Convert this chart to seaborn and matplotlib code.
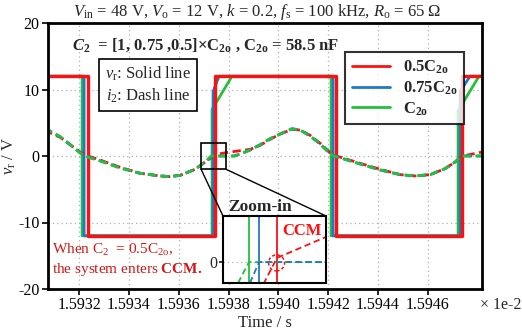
import matplotlib
matplotlib.use("Agg")
import numpy as np
import pandas as pd
import seaborn as sns
import matplotlib.pyplot as plt
from matplotlib.patches import Rectangle, Ellipse, ConnectionPatch
from matplotlib.lines import Line2D
from matplotlib.ticker import FuncFormatter

# ---------------- data (time in units of 1e-2 s) ----------------
t_vr_green = [1.593060, 1.593212, 1.593212, 1.593734, 1.593734, 1.593814, 1.594212, 1.594212, 1.594722, 1.594722, 1.594806, 1.594818]
vr_green = [12, 12, -12, -12, 7.0, 12, 12, -12, -12, 6.8, 12, 12]
t_vr_blue = [1.593060, 1.593220, 1.593220, 1.593738, 1.593738, 1.593762, 1.594220, 1.594220, 1.594730, 1.594730, 1.594770, 1.594818]
vr_blue = [12, 12, -12, -12, 9.7, 12, 12, -12, -12, 9.7, 12, 12]
t_vr_red = [1.593060, 1.593236, 1.593236, 1.593744, 1.593744, 1.594231, 1.594231, 1.594738, 1.594738, 1.594818]
vr_red = [12, 12, -12, -12, 12, 12, -12, -12, 12, 12]

t_i2_green = [1.593059, 1.593076, 1.593124, 1.593164, 1.593204, 1.593220, 1.593284, 1.593365, 1.593445, 1.593525,
              1.593565, 1.593606, 1.593666, 1.593706, 1.593730, 1.593827, 1.593847, 1.593887, 1.593927, 1.593967,
              1.594007, 1.594055, 1.594088, 1.594128, 1.594168, 1.594208, 1.594224, 1.594268, 1.594329, 1.594409,
              1.594489, 1.594549, 1.594610, 1.594670, 1.594710, 1.594734, 1.594818]
i2_green = [4.0, 3.9, 2.9, 1.7, 0.45, 0.0, -0.75, -1.8, -2.6, -3.0,
            -3.1, -2.9, -2.0, -0.9, 0.0, 0.0, 0.3, 0.9, 1.7, 2.6,
            3.3, 4.1, 3.9, 3.0, 1.8, 0.3, 0.0, -0.5, -1.2, -2.1,
            -2.8, -3.0, -2.8, -1.9, -0.9, 0.0, 0.0]
t_i2_blue = [1.593059, 1.593076, 1.593124, 1.593164, 1.593204, 1.593224, 1.593284, 1.593365, 1.593445, 1.593525,
             1.593565, 1.593606, 1.593666, 1.593706, 1.593736, 1.593820, 1.593847, 1.593887, 1.593927, 1.593967,
             1.594007, 1.594055, 1.594088, 1.594128, 1.594168, 1.594210, 1.594228, 1.594268, 1.594329, 1.594409,
             1.594489, 1.594549, 1.594610, 1.594670, 1.594710, 1.594738, 1.594818]
i2_blue = [4.0, 3.9, 2.9, 1.7, 0.5, 0.0, -0.7, -1.8, -2.6, -3.0,
           -3.1, -2.9, -2.0, -0.9, 0.0, 0.0, 0.3, 0.9, 1.7, 2.6,
           3.3, 4.1, 3.9, 3.0, 1.8, 0.3, 0.0, -0.5, -1.2, -2.1,
           -2.8, -3.0, -2.8, -1.9, -0.9, 0.0, 0.0]
t_i2_red = [1.593059, 1.593076, 1.593124, 1.593164, 1.593204, 1.593236, 1.593284, 1.593365, 1.593445, 1.593525,
            1.593565, 1.593606, 1.593666, 1.593706, 1.593742, 1.593760, 1.593790, 1.593827, 1.593847, 1.593887,
            1.593927, 1.593967, 1.594007, 1.594055, 1.594088, 1.594128, 1.594168, 1.594208, 1.594234, 1.594268,
            1.594329, 1.594409, 1.594489, 1.594549, 1.594610, 1.594670, 1.594710, 1.594740, 1.594780, 1.594818]
i2_red = [3.6, 3.6, 2.8, 1.7, 0.6, 0.0, -0.6, -1.7, -2.6, -3.0,
          -3.1, -2.9, -2.0, -0.9, 0.0, 0.3, 0.5, 0.7, 0.8, 1.0,
          1.6, 2.5, 3.3, 4.0, 3.9, 3.1, 1.9, 0.5, 0.0, -0.4,
          -1.1, -2.0, -2.8, -3.0, -2.8, -1.9, -0.9, 0.0, 0.3, 0.6]

# inset (zoomed schematic around the rising edge)
ins_t_vr_green = [1.593690, 1.5937152, 1.5937152]
ins_vr_green = [-1.0, -1.0, 12]
ins_t_vr_blue = [1.593690, 1.593725, 1.593725]
ins_vr_blue = [-1.0, -1.0, 12]
ins_t_vr_red = [1.593690, 1.5937424, 1.5937424]
ins_vr_red = [-1.0, -1.0, 12]
ins_t_i2_green = [1.5937046, 1.5937152, 1.593790]
ins_i2_green = [-1.0, 0.0, 0.0]
ins_t_i2_blue = [1.5937162, 1.593725, 1.593790]
ins_i2_blue = [-1.0, 0.0, 0.0]
ins_t_i2_red = [1.593690, 1.5937298, 1.5937424, 1.593790]
ins_i2_red = [-1.0, -1.0, 0.2, 1.2]

x_ticks = [1.5932, 1.5934, 1.5936, 1.5938, 1.5940, 1.5942, 1.5944, 1.5946]
y_ticks = [-20, -10, 0, 10, 20]

RED = "#ff1010"
BLUE = "#2079c8"
GREEN = "#22c03c"

# ---------------- style ----------------
sns.set_theme(style="ticks")
plt.rcParams["font.family"] = ["Liberation Serif", "DejaVu Serif"]
plt.rcParams["mathtext.fontset"] = "custom"
plt.rcParams["mathtext.rm"] = "Liberation Serif"
plt.rcParams["mathtext.it"] = "Liberation Serif:italic"
plt.rcParams["mathtext.bf"] = "Liberation Serif:bold"
plt.rcParams["mathtext.bfit"] = "Liberation Serif:bold:italic"
plt.rcParams["axes.unicode_minus"] = False

fig = plt.figure(figsize=(5.22, 3.35), dpi=100)
ax = fig.add_axes([48 / 522, 1 - 289 / 335, 434 / 522, 266 / 335])

dash = (0, (3, 1.6))
for t, v, c, lw in [(t_vr_green, vr_green, GREEN, 2.0), (t_vr_blue, vr_blue, BLUE, 2.0), (t_vr_red, vr_red, RED, 2.4)]:
    sns.lineplot(x=t, y=v, sort=False, estimator=None, color=c, lw=lw, ax=ax)
for t, v, c in [(t_i2_red, i2_red, RED), (t_i2_blue, i2_blue, BLUE), (t_i2_green, i2_green, GREEN)]:
    sns.lineplot(x=t, y=v, sort=False, estimator=None, color=c, lw=2.0, linestyle=dash, ax=ax)

ax.set_xlim(1.593075, 1.594818)
ax.set_ylim(-20, 20)
ax.set_xticks(x_ticks)
ax.set_yticks(y_ticks)
ax.xaxis.set_major_formatter(FuncFormatter(lambda x, p: f"{x:.4f}"))
ax.yaxis.set_major_formatter(FuncFormatter(lambda y, p: f"{y:.0f}"))
ax.grid(True, linestyle=(0, (1, 2.5)), color="#b0b0b0", lw=0.9)
for s in ax.spines.values():
    s.set_linewidth(2.0)
    s.set_color("black")
ax.tick_params(axis="both", labelsize=11.5, length=4, width=1.2, colors="black", pad=2)
ax.set_xlabel("Time / s", fontsize=12, labelpad=1)
ax.set_ylabel("$v_{\\mathrm{r}}$ / V", fontsize=12, labelpad=0)

fig.text(480 / 522, 1 - 305 / 335, "× 1e-2", fontsize=11.5, ha="left", va="center")
fig.text(257 / 522, 1 - 12 / 335,
         "$V_{\\mathrm{in}}$ = 48 V, $V_{\\mathrm{o}}$ = 12 V, $k$ = 0.2, $f_{\\mathrm{s}}$ = 100 kHz, $R_{\\mathrm{o}}$ = 65 Ω",
         fontsize=12, ha="center", va="center")

ax.text(0.055, 0.917,
        "$\\mathbfit{C}_{\\mathbf{2}}$  = [1, 0.75 ,0.5]×C$_{\\mathbf{2o}}$ , C$_{\\mathbf{2o}}$ = 58.5 nF",
        transform=ax.transAxes, fontsize=12, fontweight="bold", ha="left", va="center")

ax.text(0.23, 0.767, "$v_{\\mathrm{r}}$: Solid line\n$i_{2}$: Dash line", transform=ax.transAxes,
        fontsize=12, ha="center", va="center", linespacing=1.3,
        bbox=dict(boxstyle="square,pad=0.35", fc="white", ec="black", lw=1.2))

ax.text(0.010, 0.109, "When C$_2$  = 0.5C$_{\\mathrm{2o}}$,\nthe system enters $\\mathbf{CCM.}$",
        transform=ax.transAxes, fontsize=11, color="#d01818", ha="left", va="center", linespacing=1.2)

handles = [Line2D([], [], color=RED, lw=2), Line2D([], [], color=BLUE, lw=2), Line2D([], [], color=GREEN, lw=2)]
labels = ["0.5C$_{\\mathbf{2o}}$", "0.75C$_{\\mathbf{2o}}$", "C$_{\\mathbf{2o}}$"]
leg = ax.legend(handles, labels, loc="upper left", bbox_to_anchor=(0.684, 0.891), borderaxespad=0,
                prop={"weight": "bold", "size": 12}, frameon=True, fancybox=False, handlelength=2.3,
                labelspacing=0.2, borderpad=0.4, handletextpad=0.8)
leg.get_frame().set_edgecolor("black")
leg.get_frame().set_linewidth(1.5)

# zoom rectangle on main axes
x0b, x1b, y0b, y1b = 1.593690, 1.593790, -2.0, 2.0
ax.add_patch(Rectangle((x0b, y0b), x1b - x0b, y1b - y0b, fill=False, ec="black", lw=1.2, zorder=5))

# inset
ins = fig.add_axes([223 / 522, 1 - 283 / 335, 103 / 522, 67 / 335])
ins.set_facecolor("white")
for t, v, c in [(ins_t_vr_green, ins_vr_green, GREEN), (ins_t_vr_blue, ins_vr_blue, BLUE), (ins_t_vr_red, ins_vr_red, RED)]:
    sns.lineplot(x=t, y=v, sort=False, estimator=None, color=c, lw=1.3, ax=ins)
for t, v, c in [(ins_t_i2_red, ins_i2_red, RED), (ins_t_i2_green, ins_i2_green, GREEN), (ins_t_i2_blue, ins_i2_blue, BLUE)]:
    sns.lineplot(x=t, y=v, sort=False, estimator=None, color=c, lw=1.3, linestyle=(0, (3.5, 2)), ax=ins)
ins.set_xlim(x0b, x1b)
ins.set_ylim(-1.0, 2.2)
ins.set_xticks([])
ins.set_yticks([0])
ins.set_yticklabels(["0"])
ins.tick_params(axis="y", labelsize=11.5, length=3, pad=1)
ins.grid(True, axis="y", linestyle=(0, (1, 2.5)), color="#b0b0b0", lw=0.9)
for s in ins.spines.values():
    s.set_linewidth(1.5)
    s.set_color("black")
ins.add_patch(Ellipse((0.52, 0.3), 0.155, 0.24, transform=ins.transAxes, fill=False, ec=RED, lw=1.1,
                      linestyle=(0, (2, 1.5))))
ins.text(0.77, 0.78, "CCM", transform=ins.transAxes, color=RED, fontsize=12, fontweight="bold",
         ha="center", va="center")
fig.text(260 / 522, 1 - 207 / 335, "Zoom-in", fontsize=12.5, fontweight="bold", ha="center", va="center")

for xa, xb in [(x0b, 0.0), (x1b, 1.0)]:
    cp = ConnectionPatch(xyA=(xa, y0b), coordsA=ax.transData, xyB=(xb, 1.0), coordsB=ins.transAxes,
                         color="black", lw=1.0)
    fig.add_artist(cp)

fig.savefig("out.png", dpi=100)
